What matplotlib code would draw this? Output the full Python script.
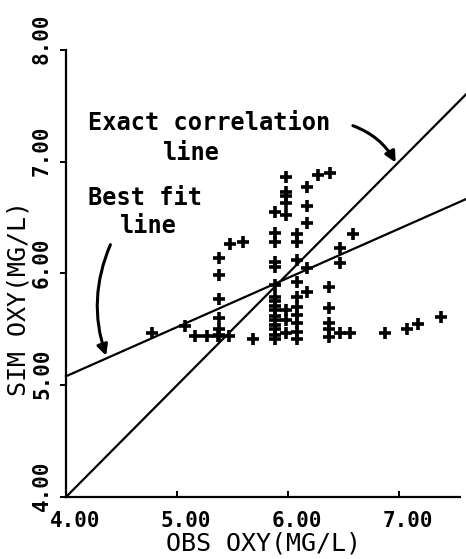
import numpy as np
import matplotlib
matplotlib.use("Agg")
import matplotlib.pyplot as plt
import matplotlib.transforms as mtransforms

obs_oxy = [4.77, 5.07,
           5.16, 5.27, 5.37, 5.47, 5.68,
           5.38, 5.38, 5.38, 5.38, 5.38, 5.38,
           5.48, 5.59,
           5.88, 5.88, 5.88, 5.88, 5.88, 5.88, 5.88, 5.88, 5.88, 5.88, 5.88,
           5.88, 5.88, 5.88, 5.88, 5.88,
           5.98, 5.98, 5.98, 5.98, 5.98, 5.98, 5.98, 5.98,
           6.08, 6.08, 6.08, 6.08, 6.08, 6.08, 6.08, 6.08, 6.08, 6.08,
           6.17, 6.17, 6.17, 6.17, 6.17,
           6.27, 6.38, 6.58, 6.47, 6.47,
           6.37, 6.37, 6.37, 6.37, 6.37,
           6.47, 6.56, 6.87, 7.07, 7.17, 7.38]
sim_oxy = [5.47, 5.53,
           5.44, 5.44, 5.44, 5.44, 5.41,
           6.14, 5.99, 5.77, 5.60, 5.50, 5.45,
           6.26, 6.28,
           6.55, 6.36, 6.28, 6.10, 6.06, 5.90, 5.79, 5.75, 5.71, 5.67, 5.62,
           5.58, 5.54, 5.50, 5.45, 5.41,
           6.86, 6.73, 6.69, 6.63, 6.52, 5.67, 5.58, 5.47,
           6.35, 6.28, 6.12, 5.92, 5.79, 5.70, 5.63, 5.56, 5.48, 5.41,
           6.77, 6.60, 6.45, 6.05, 5.83,
           6.88, 6.90, 6.35, 6.23, 6.09,
           5.88, 5.69, 5.56, 5.50, 5.43,
           5.47, 5.47, 5.47, 5.50, 5.55, 5.61]

fit_slope = 0.44
fit_intercept = 3.32
x_ticks = [4.0, 5.0, 6.0, 7.0]
y_ticks = [4.0, 5.0, 6.0, 7.0, 8.0]

plt.rcParams['font.family'] = ['DejaVu Sans Mono']

fig = plt.figure(figsize=(4.66, 5.59), dpi=100)
ax = fig.add_axes([0.1416, 0.1109, 0.858, 0.80])

xx = np.array([4.0, 7.62])
ax.plot(xx, xx, color='black', lw=1.6, clip_on=False)
ax.plot(xx, fit_intercept + fit_slope*xx, color='black', lw=1.6, clip_on=False)
ax.plot(obs_oxy, sim_oxy, '+', color='black', ms=9, mew=2.6)

ax.set_xlim(4.0, 7.6)
ax.set_ylim(4.0, 8.0)
ax.spines['top'].set_visible(False)
ax.spines['right'].set_visible(False)
ax.spines['bottom'].set_bounds(4.0, 7.55)
ax.spines['left'].set_linewidth(1.6)
ax.spines['bottom'].set_linewidth(1.6)

ax.set_xticks(x_ticks)
ax.set_xticklabels(['%.2f' % v for v in x_ticks], fontsize=15, fontweight='bold')
ax.set_yticks(y_ticks)
ax.set_yticklabels(['%.2f' % v for v in y_ticks], fontsize=15, fontweight='bold',
                   rotation=90, va='center')
ax.tick_params(axis='x', direction='in', length=4, width=1.4, pad=10)
ax.tick_params(axis='y', direction='out', length=4, width=1.4, pad=6)

# labels sit a little off their ticks in the original
shift_x = mtransforms.ScaledTranslation(9/100, 0, fig.dpi_scale_trans)
for lab in ax.get_xticklabels():
    lab.set_transform(lab.get_transform() + shift_x)
shift_y = mtransforms.ScaledTranslation(0, 11/100, fig.dpi_scale_trans)
for lab in ax.get_yticklabels():
    lab.set_transform(lab.get_transform() + shift_y)

ax.set_xlabel('OBS OXY(MG/L)', fontsize=18)
ax.set_ylabel('SIM OXY(MG/L)', fontsize=18)
ax.xaxis.set_label_coords(0.495, -0.078)
ax.yaxis.set_label_coords(-0.088, 0.443)

# annotations
ax.text(4.20, 7.285, 'Exact correlation', ha='left', va='baseline',
        fontsize=17, fontweight='bold')
ax.text(4.87, 7.017, 'line', ha='left', va='baseline',
        fontsize=17, fontweight='bold')
ax.text(4.20, 6.614, 'Best fit', ha='left', va='baseline',
        fontsize=17, fontweight='bold')
ax.text(4.49, 6.364, 'line', ha='left', va='baseline',
        fontsize=17, fontweight='bold')
ax.annotate('', xy=(6.98, 6.97), xytext=(6.56, 7.33),
            arrowprops=dict(arrowstyle='-|>', color='black', lw=2.2,
                            mutation_scale=16, connectionstyle='arc3,rad=-0.2'))
ax.annotate('', xy=(4.37, 5.24), xytext=(4.41, 6.28),
            arrowprops=dict(arrowstyle='-|>', color='black', lw=2.2,
                            mutation_scale=16, connectionstyle='arc3,rad=0.2'))

fig.savefig('out.png', dpi=100)
